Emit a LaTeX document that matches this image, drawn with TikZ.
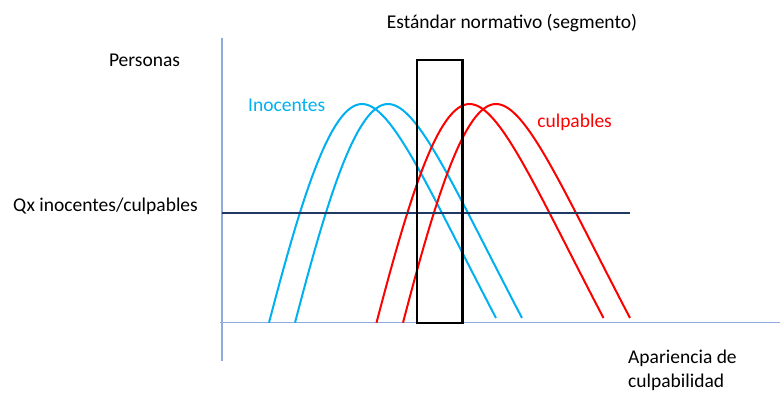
\documentclass[tikz,border=0pt]{standalone}
\usepackage{fontspec}
\setmainfont{Carlito}
\usepackage{xcolor}
\usepackage{tikz}

\definecolor{celeste}{RGB}{0,176,240}
\definecolor{ejes}{RGB}{143,170,220}
\definecolor{marino}{RGB}{31,56,100}

\begin{document}
\begin{tikzpicture}[x = 1pt, y = -1pt, every node/.style = {inner sep = 0pt, font = \fontsize{19.5}{24}\selectfont}]
		\def\ejex{322.7};
		\def\ejey{222};
		\def\nivel{213.3};
		
		\useasboundingbox (0,0) rectangle (780,394);
		
		\coordinate (arriba) at (\ejey,38);
		\coordinate (abajo) at (\ejey,361);
		\coordinate (izq) at (220,\ejex);
		\coordinate (der) at (780,\ejex);
		\coordinate (fin nivel) at (630,\nivel);
		
		\draw [ejes, line width = 1.3pt] (arriba) -- (abajo);
		\draw [ejes, line width = 1.3pt] (izq) -- (der);
		
		\foreach \s/\c in {0/celeste, 26/celeste, 107.5/red, 134/red}
			\draw [\c, line width = 2pt, xshift = \s] (269,\ejex) .. controls (300.6,202) and (330,104) .. (362,104) .. controls (392,104) and (428,188) .. (496,318);
		
		\draw [marino, line width = 2pt] (\ejey,\nivel) -- (fin nivel);
		
		\draw [line width = 2.2pt] (417,\ejex) rectangle (462.5,59.8);
		
		\node (estandar) at (512,28.3) [anchor = base] {Estándar normativo (segmento)};
		\node (personas) at (144.5,66) [anchor = base] {Personas};
		\node (qx) at (105.5,211.7) [anchor = base] {Qx inocentes/culpables};
		\node (inocentes) at (286.7,111.7) [anchor = base, celeste] {Inocentes};
		\node (culpables) at (574.6,127) [anchor = base, red] {culpables};
		\node (apariencia) at (628,387.3) [anchor = base west, align = left] {Apariencia de\\culpabilidad};
	\end{tikzpicture}
\end{document}
